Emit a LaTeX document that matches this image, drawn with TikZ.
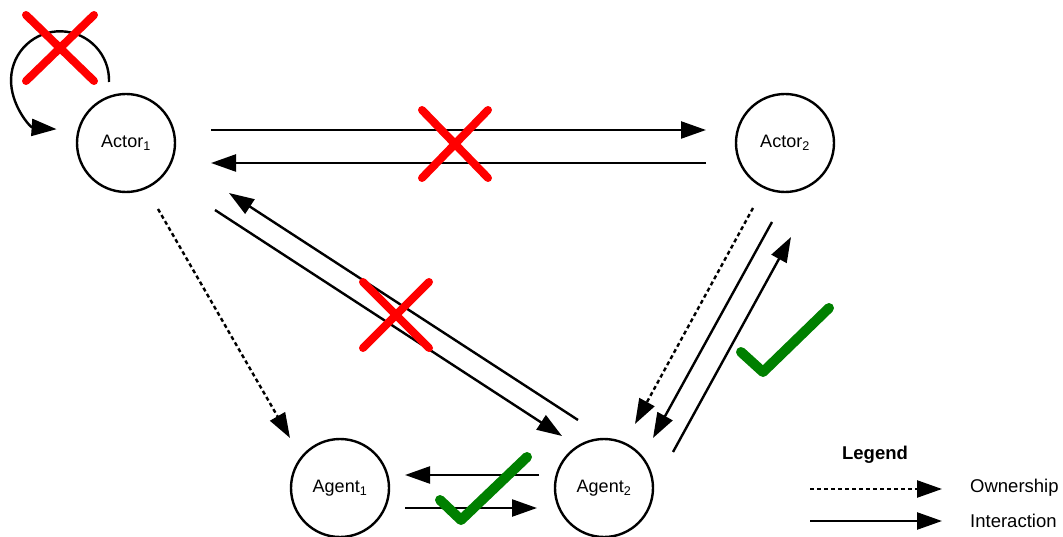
\documentclass[tikz,border=0pt]{standalone}
\usepackage{fontspec}
\setmainfont{Liberation Sans}
\usetikzlibrary{arrows.meta,calc}
\definecolor{crossred}{RGB}{255,0,0}
\definecolor{tickgreen}{RGB}{0,128,0}
\begin{document}
\begin{tikzpicture}[x=1pt,y=-1pt,
  party/.style={circle, draw, line width=2.4pt, minimum size=98pt, inner sep=0pt,
    font=\fontsize{18}{21}\selectfont},
  interact/.style={line width=2.4pt, -{Triangle[length=25pt,width=17pt]}},
  owns/.style={interact, dash pattern=on 4pt off 3pt},
  nogo/.style={crossred, line width=8pt, line cap=round},
  okay/.style={tickgreen, line width=10pt, line cap=round, line join=round},
  lbl/.style={font=\fontsize{18.5}{21}\selectfont, inner sep=0pt}]
\useasboundingbox (0,0) rectangle (1063,537);

% parties
\node[party] (actorA) at (126,143) {Actor\textsubscript{1}};
\node[party] (actorB) at (785,143) {Actor\textsubscript{2}};
\node[party] (agentA) at (340,488) {Agent\textsubscript{1}};
\node[party] (agentB) at (604,488) {Agent\textsubscript{2}};

% self interaction of Actor1
\draw[interact] ($(actorA)+(-17,-61)$) arc[start angle=2, end angle=-266, radius=49];

% actor <-> actor
\draw[interact] ($(actorA)+(85,-13)$) -- ($(actorB)+(-79,-13)$);
\draw[interact] ($(actorB)+(-79,20)$) -- ($(actorA)+(85,20)$);

% Actor1 <-> Agent2
\draw[interact] ($(actorA)+(89,67)$) -- ($(agentB)+(-42,-52)$);
\draw[interact] ($(agentB)+(-26,-68)$) -- ($(actorA)+(103,50)$);

% ownership
\draw[owns] ($(actorA)+(32,66)$) -- ($(agentA)+(-50,-50)$);
\draw[owns] ($(actorB)+(-32,65)$) -- ($(agentB)+(31,-64)$);

% Actor2 <-> Agent2
\draw[interact] ($(actorB)+(-13,79)$) -- ($(agentB)+(49,-50)$);
\draw[interact] ($(agentB)+(69,-36)$) -- ($(actorB)+(6,94)$);

% agent <-> agent
\draw[interact] ($(agentB)+(-65,-13)$) -- ($(agentA)+(65,-13)$);
\draw[interact] ($(agentA)+(65,20)$) -- ($(agentB)+(-67,20)$);

% forbidden interactions
\draw[nogo] (26,15) -- (94,81) (94,15) -- (26,81);
\draw[nogo] (422,110) -- (488,178) (488,110) -- (422,178);
\draw[nogo] (363,282) -- (429,348) (429,282) -- (363,348);

% allowed interactions
\draw[okay] (741,352) -- (763,372) -- (829,308);
\draw[okay] (440,500) -- (461,520) -- (527,457);

% legend
\node[lbl, font=\fontsize{18.5}{21}\selectfont\bfseries] (legend) at (875,455) {Legend};
\coordinate (ownA) at (810,489);
\coordinate (ownB) at (942,489);
\coordinate (intA) at (810,521);
\coordinate (intB) at (942,521);
\draw[owns] (ownA) -- (ownB);
\draw[interact] (intA) -- (intB);
\node[lbl, anchor=west] (ownText) at (970,488) {Ownership};
\node[lbl, anchor=west] (intText) at (970,521) {Interaction};
\end{tikzpicture}
\end{document}
